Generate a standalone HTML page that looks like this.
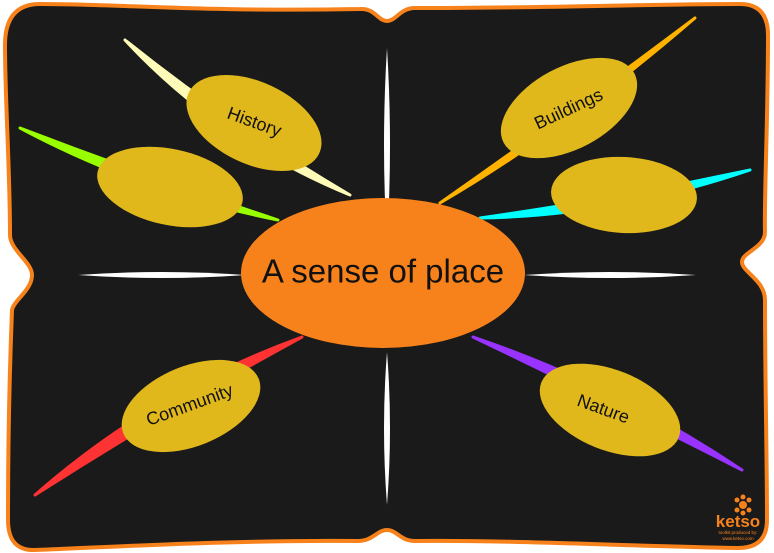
<!DOCTYPE html>
<html><head><meta charset="utf-8"><style>
html,body{margin:0;padding:0;background:#fff;}
svg{display:block;font-family:"Liberation Sans","DejaVu Sans",sans-serif;}
</style></head><body>
<svg width="774" height="553" viewBox="0 0 774 553" xmlns="http://www.w3.org/2000/svg">
<path d="M40,4 C120,4 200,12 360,9 C375,8 378,21 387,21 C396,21 400,8 415,8 C550,8 650,4 740,4 Q768,4 768,35 C768,120 764,200 765,232 C765,248 742,252 742,262 C742,272 765,280 765,300 C765,380 767,460 767,520 Q767,548 738,548 C620,546 520,540 415,541 C400,541 397,530 387,530 C377,530 373,541 358,541 C250,540 150,545 35,550 Q8,551 8,520 C8,440 10,360 12,310 C14,300 32,290 32,275 C32,262 10,250 10,235 C10,170 5,100 5,45 Q5,4 40,4Z" fill="#1a1a1a" stroke="#f7821b" stroke-width="4"/>
<!-- white spindles -->
<path d="M387,48 Q393,145 387,242 Q381,145 387,48Z" fill="#fff"/>
<path d="M387,352 Q393,428 387,505 Q381,428 387,352Z" fill="#fff"/>
<path d="M78,275 Q162,269 246,275 Q162,281 78,275Z" fill="#fff"/>
<path d="M524,275 Q610,269 696,275 Q610,281 524,275Z" fill="#fff"/>
<!-- tendrils -->
<path d="M125,40 Q219,141 350,195 Q231,125 125,40Z" fill="#fdfbb7" stroke="#fdfbb7" stroke-width="3" stroke-linejoin="round"/>
<path d="M20,128 Q142,193 278,220 Q148,177 20,128Z" fill="#99ff00" stroke="#99ff00" stroke-width="3" stroke-linejoin="round"/>
<path d="M695,18 Q565,130 440,203 Q570,112 695,18Z" fill="#ffb300" stroke="#ffb300" stroke-width="3" stroke-linejoin="round"/>
<path d="M750,170 Q615,216 480,218 Q615,199 750,170Z" fill="#00ffff" stroke="#00ffff" stroke-width="3" stroke-linejoin="round"/>
<path d="M35,495 Q155,390 302,337 Q168,410 35,495Z" fill="#ff3333" stroke="#ff3333" stroke-width="3" stroke-linejoin="round"/>
<path d="M473,337 Q615,385 742,470 Q600,398 473,337Z" fill="#9933ff" stroke="#9933ff" stroke-width="3" stroke-linejoin="round"/>
<!-- ellipses -->
<ellipse cx="254" cy="123" rx="72" ry="41" transform="rotate(25 254 123)" fill="#e0b81c"/>
<text x="254" y="123" transform="rotate(20 254 123)" text-anchor="middle" dominant-baseline="middle" font-size="18" fill="#111">History</text>
<ellipse cx="170" cy="187" rx="74" ry="38" transform="rotate(12 170 187)" fill="#e0b81c"/>
<ellipse cx="569" cy="108" rx="74" ry="41" transform="rotate(-28 569 108)" fill="#e0b81c"/>
<text x="569" y="110" transform="rotate(-25 569 110)" text-anchor="middle" dominant-baseline="middle" font-size="18" fill="#111">Buildings</text>
<ellipse cx="624" cy="195" rx="73" ry="38" transform="rotate(3 624 195)" fill="#e0b81c"/>
<ellipse cx="191" cy="406" rx="73" ry="40" transform="rotate(-22 191 406)" fill="#e0b81c"/>
<text x="190" y="406" transform="rotate(-20 190 406)" text-anchor="middle" dominant-baseline="middle" font-size="18" fill="#111">Community</text>
<ellipse cx="610" cy="410" rx="74" ry="40" transform="rotate(22 610 410)" fill="#e0b81c"/>
<text x="603" y="410" transform="rotate(20 603 410)" text-anchor="middle" dominant-baseline="middle" font-size="18" fill="#111">Nature</text>
<!-- center -->
<ellipse cx="383" cy="273" rx="142" ry="75" fill="#f7821b"/>
<text x="383" y="274" text-anchor="middle" dominant-baseline="middle" font-size="33" fill="#111">A sense of place</text>
<!-- logo -->
<g fill="#f7821b">
<circle cx="743" cy="505" r="4"/><circle cx="737" cy="500" r="2.5"/><circle cx="749" cy="500" r="2.5"/><circle cx="737" cy="510" r="2.5"/><circle cx="749" cy="510" r="2.5"/><circle cx="743" cy="497" r="2.5"/><circle cx="743" cy="513" r="2.5"/>
</g>
<text x="738" y="527" text-anchor="middle" font-size="17" font-weight="bold" fill="#f7821b">ketso</text>
<text x="738" y="534" text-anchor="middle" font-size="4.5" fill="#f7821b">toolkit produced by:</text>
<text x="738" y="540" text-anchor="middle" font-size="4.5" fill="#f7821b">www.ketso.com</text>
</svg>
</body></html>
